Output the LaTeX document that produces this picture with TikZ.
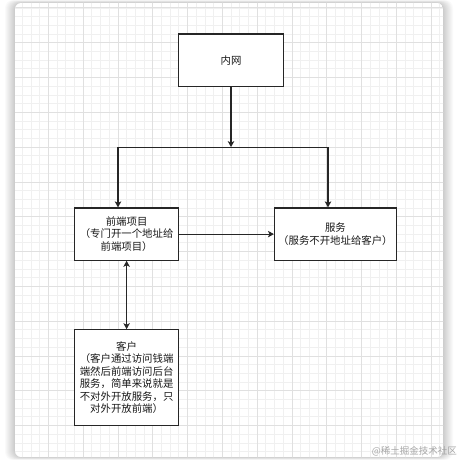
\documentclass[tikz,border=0pt]{standalone}
\usepackage{fontspec}
\usetikzlibrary{arrows.meta}
\newfontfamily\cjk{Noto Sans CJK SC}

\begin{document}
\begin{tikzpicture}[x=1pt, y=-1pt,
  box/.style={rectangle, draw=black!85, line width=1.2pt, fill=white, inner sep=0pt,
    align=center, text=black!90, font=\cjk\fontsize{10.4}{12.5}\selectfont,
    minimum width=104.4pt, minimum height=52.2pt},
  wire/.style={draw=black!85, line width=1.2pt},
  link/.style={wire, -{Stealth[length=6pt, width=6.5pt, inset=1.6pt]}},
  both/.style={wire, {Stealth[length=6pt, width=6.5pt, inset=1.6pt]}-{Stealth[length=6pt, width=6.5pt, inset=1.6pt]}},
  gridminor/.style={draw=black!6, line width=0.7pt},
  gridmajor/.style={draw=black!12, line width=0.8pt}]
\useasboundingbox (0,0) rectangle (460,460);
\fill[white] (0,0) rectangle (460,460);
\foreach \s in {1,...,10}
  \fill[black, opacity=0.02, rounded corners=8pt] (15-\s,3-0.3*\s) rectangle (443+\s,457+0.3*\s);
\begin{scope}
\clip[rounded corners=6pt] (15,3) rectangle (443,457);
\fill[white] (15,3) rectangle (443,457);
\foreach \i in {0,...,52} {
  \draw[gridminor] ({13.5+8.7*\i},0) -- ({13.5+8.7*\i},460);
  \draw[gridminor] (0,{-0.8+8.7*\i}) -- (460,{-0.8+8.7*\i});
}
\foreach \i in {0,...,13} {
  \draw[gridmajor] ({13.5+34.8*\i},0) -- ({13.5+34.8*\i},460);
  \draw[gridmajor] (0,{7.9+34.8*\i}) -- (460,{7.9+34.8*\i});
}
\end{scope}

\node[box] (intranet) at (231,60.1) {内网};
\node[box] (frontend) at (126.6,234.1) {前端项目\\（专门开一个地址给\\前端项目）};
\node[box, minimum width=121.8pt] (service) at (335.4,234.1) {服务\\（服务不开地址给客户）};
\node[box, minimum height=95.7pt] (client) at (126.6,377.6)
  {客户\\（客户通过访问钱端\\端然后前端访问后台\\服务，简单来说就是\\不对外开放服务，只\\对外开放前端）};

\coordinate (fork) at (231,147.1);
\coordinate (forkL) at (118,147.1);
\coordinate (forkR) at (328,147.1);
\draw[link] (intranet) -- (fork);
\draw[wire] (forkL) -- (forkR);
\draw[link] (forkL) -- (forkL |- frontend.north);
\draw[link] (forkR) -- (forkR |- service.north);
\draw[link] (frontend) -- (service);
\draw[both] (frontend) -- (client);

\node[anchor=east, inner sep=0pt, text=black!35, font=\cjk\fontsize{9.5}{10}\selectfont] (mark) at (457,451.5) {@稀土掘金技术社区};
\end{tikzpicture}
\end{document}
